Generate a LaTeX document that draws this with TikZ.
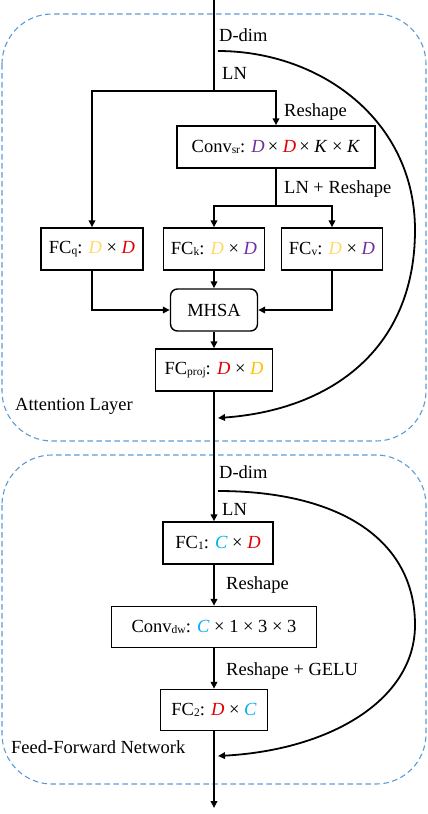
\documentclass[tikz,border=0pt]{standalone}
\usepackage{fontspec}
\setmainfont{Liberation Serif}
\usetikzlibrary{arrows.meta,positioning,calc}
\definecolor{layerblue}{HTML}{5B9BD5}
\definecolor{dimred}{HTML}{E00000}
\definecolor{dimpurple}{HTML}{7030A0}
\definecolor{dimgold}{HTML}{FFC000}
\definecolor{dimyellow}{HTML}{FFD966}
\definecolor{dimcyan}{HTML}{00B0F0}
\newcommand{\dimv}[2]{\textcolor{#1}{\textit{#2}}}
\newcommand{\sbs}[1]{\raisebox{-1pt}{\fontsize{11.5}{12}\selectfont #1}}
\tikzset{
    every node/.style={font=\fontsize{18.5}{21}\selectfont},
    blk/.style={draw,line width=1.4pt,minimum height=42pt,inner sep=2pt},
    mhsa/.style={blk,rounded corners=7pt},
    lbl/.style={anchor=west,inner sep=0pt},
    flow/.style={line width=1.8pt},
    arr/.style={flow,-{Triangle[length=7pt,width=6.5pt]}},
    layer/.style={draw=layerblue,line width=1.1pt,dash pattern=on 5.5pt off 3.5pt,rounded corners=50pt},
}

\begin{document}
\begin{tikzpicture}[x=1pt,y=-1pt]
    \useasboundingbox (0,0) rectangle (428,814);
    % dashed layer frames
    \draw[layer] (2,14) rectangle (426,441);
    \draw[layer] (2,455) rectangle (426,784);

    % attention layer
    \coordinate (top) at (214,0);
    \coordinate (branch) at (214,91);
    \coordinate (skipa) at (218,51);
    \coordinate (skipaend) at (218,418);
    \node[blk,minimum width=198pt] (convsr) at (276,147) {Conv\sbs{sr}: \dimv{dimpurple}{D}\,× \dimv{dimred}{D}\,× \textit{K} × \textit{K}};
    \coordinate (split) at (276,206);
    \node[blk,minimum width=102pt] (fcq) at (92,249) {FC\sbs{q}: \dimv{dimyellow}{D} × \dimv{dimred}{D}};
    \node[blk,minimum width=101pt] (fck) at (214,249) {FC\sbs{k}: \dimv{dimyellow}{D} × \dimv{dimpurple}{D}};
    \node[blk,minimum width=101pt] (fcv) at (332,249) {FC\sbs{v}: \dimv{dimyellow}{D} × \dimv{dimpurple}{D}};
    \node[mhsa,minimum width=87pt] (att) at (214,310) {MHSA};
    \node[blk,minimum width=117pt] (fcproj) at (214,370) {FC\sbs{proj}: \dimv{dimred}{D} × \dimv{dimgold}{D}};

    \node[lbl] at (219,35) {D-dim};
    \node[lbl] at (222,73) {LN};
    \node[lbl] at (284,112) {Reshape};
    \node[lbl] at (284,189) {LN + Reshape};
    \node[lbl] at (15,406) {Attention Layer};

    % feed-forward network
    \coordinate (skipb) at (218,491);
    \coordinate (skipbend) at (218,756);
    \coordinate (bottom) at (214,808);
    \node[blk,minimum width=110pt] (fc1) at (218,543) {FC\sbs{1}: \dimv{dimcyan}{C} × \dimv{dimred}{D}};
    \node[blk,minimum width=205pt,minimum height=41pt] (convdw) at (214,627) {Conv\sbs{dw}: \dimv{dimcyan}{C} × 1 × 3 × 3};
    \node[blk,minimum width=107pt,minimum height=41pt] (fc2) at (214,710) {FC\sbs{2}: \dimv{dimred}{D} × \dimv{dimcyan}{C}};

    \node[lbl] at (219,472) {D-dim};
    \node[lbl] at (222,509) {LN};
    \node[lbl] at (226,585) {Reshape};
    \node[lbl] at (226,671) {Reshape + GELU};
    \node[lbl] at (11,747) {Feed-Forward Network};

    % connectors
    \draw[flow] (top) -- (branch);
    \draw[arr] (branch) -| (fcq.north);
    \draw[arr] (branch) -| (convsr.north);
    \draw[flow] (convsr.south) -- (split);
    \draw[arr] (split) -| (fck.north);
    \draw[arr] (split) -| (fcv.north);
    \draw[arr] (fcq.south) |- (att.west);
    \draw[arr] (fcv.south) |- (att.east);
    \draw[arr] (fck.south) -- (att.north);
    \draw[arr] (att.south) -- (fcproj.north);
    \draw[arr] (fcproj.south) -- (top |- fc1.north);
    \draw[arr] (top |- fc1.south) -- (convdw.north);
    \draw[arr] (convdw.south) -- (fc2.north);
    \draw[arr] (fc2.south) -- (bottom);
    \draw[arr] (skipa) .. controls (320,51) and (415,120) .. (415,230)
        .. controls (415,350) and (330,410) .. (skipaend);
    \draw[arr] (skipb) .. controls (340,491) and (415,540) .. (415,625)
        .. controls (415,700) and (330,750) .. (skipbend);
\end{tikzpicture}
\end{document}
